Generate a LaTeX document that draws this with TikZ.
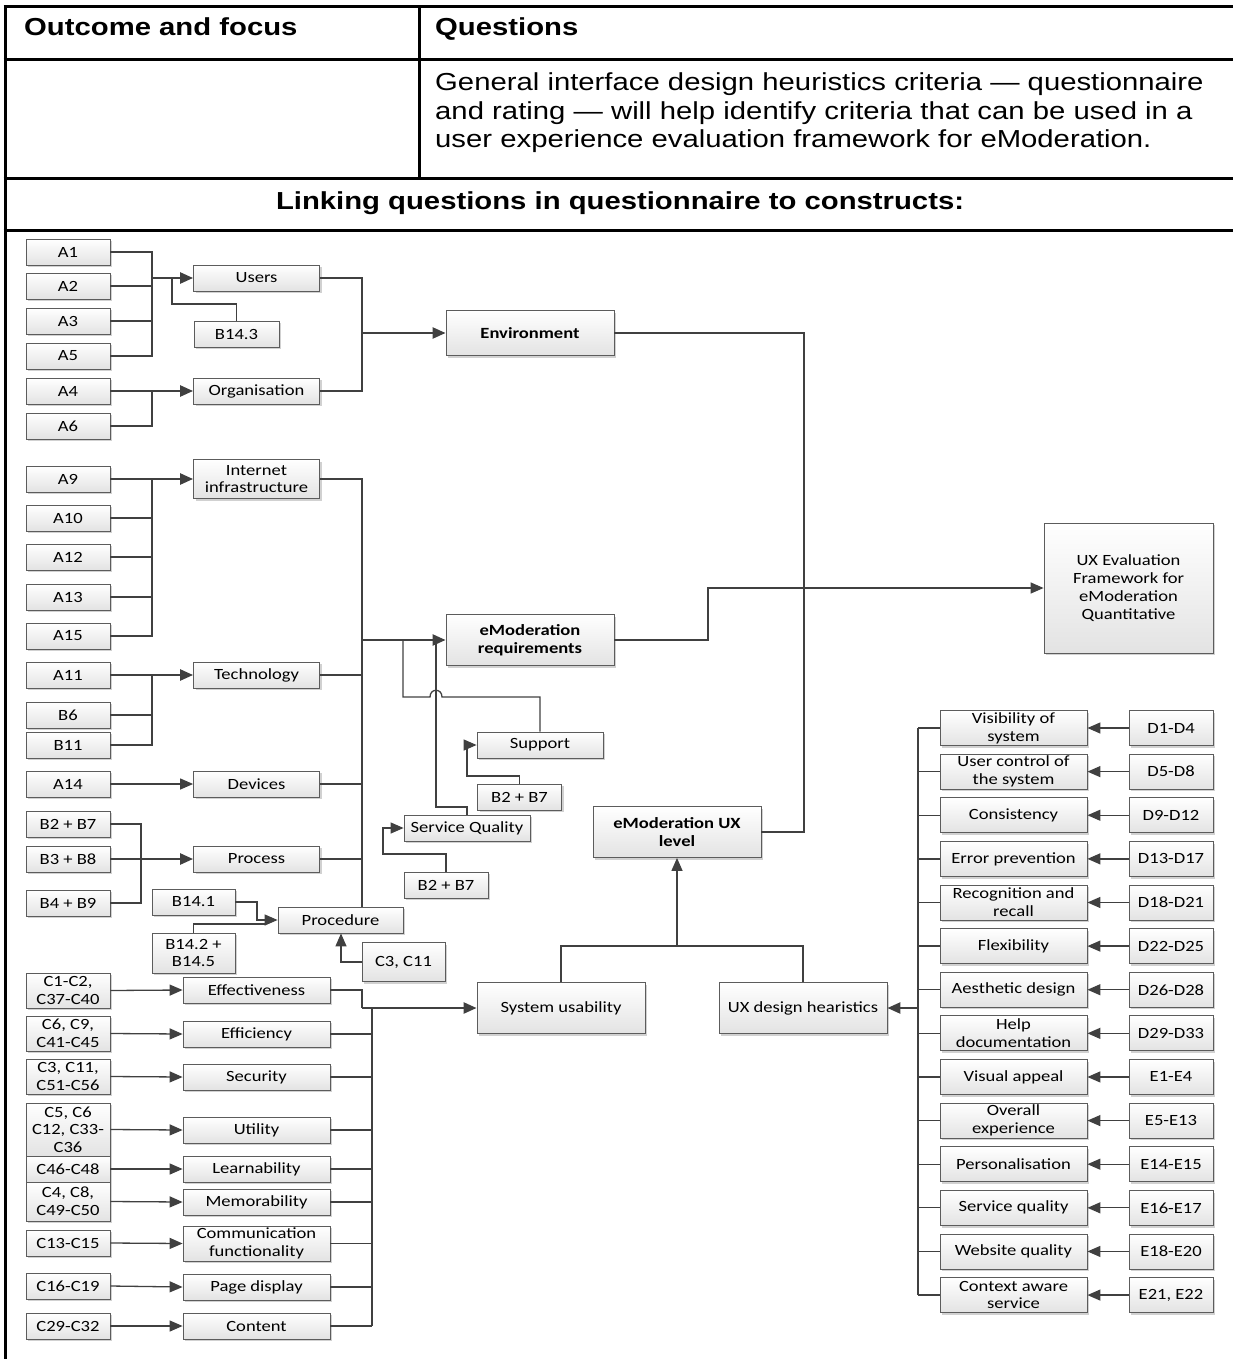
\documentclass[tikz,border=0pt]{standalone}
\usepackage{fontspec}
\setmainfont{Carlito}[FakeStretch=1.19]
\newfontfamily\arialf{Liberation Sans}[FakeStretch=1.19]
\usetikzlibrary{arrows.meta,shadows}
\definecolor{wire}{HTML}{404040}
\definecolor{rim}{HTML}{5C5C5C}
\tikzset{
  box/.style={draw=rim, line width=0.8pt, top color=white, bottom color=black!11,
    drop shadow={shadow xshift=2.2pt, shadow yshift=-2.2pt, fill=black!18, opacity=1},
    font=\fontsize{15.6}{17.8}\selectfont, align=center, inner sep=0pt},
  bold box/.style={box, font=\bfseries\fontsize{15.6}{18.5}\selectfont},
  qcode/.style={box, minimum width=84, minimum height=26},
  cons/.style={box, minimum width=126, minimum height=26},
  cons2/.style={box, minimum width=147, minimum height=26},
  link/.style={draw=wire, line width=1.3pt},
  bus/.style={draw=wire, line width=1.9pt},
  heavy/.style={draw=wire, line width=2.4pt},
  arw/.style={-{Triangle[length=13pt,width=11pt]}},
  tbl/.style={line width=3pt, draw=black},
  hd/.style={font=\arialf\bfseries\fontsize{24.6}{28.5}\selectfont, inner sep=0pt},
}
\begin{document}
\begin{tikzpicture}[x=1pt,y=-1pt]
\useasboundingbox (0,0) rectangle (1233,1359);

% ---------- table frame ----------
\draw[tbl] (3.5,7) -- (1240,7);
\draw[tbl] (3.5,60) -- (1240,60);
\draw[tbl] (3.5,179) -- (1240,179);
\draw[tbl] (3.5,230) -- (1240,230);
\draw[tbl] (5,5.5) -- (5,1365);
\draw[tbl] (419,7) -- (419,179);

\node[hd, anchor=base west] (tOut) at (24,36) {Outcome and focus};
\node[hd, anchor=base west] (tQue) at (435,36) {Questions};
\node[font=\arialf\fontsize{24.6}{28.5}\selectfont, anchor=base west, inner sep=0pt,
      text width=790pt, align=left] (tBody) at (435,91)
  {General interface design heuristics criteria — questionnaire\\
   and rating — will help identify criteria that can be used in a\\
   user experience evaluation framework for eModeration.};
\node[hd, anchor=base] (tLink) at (620,209) {Linking questions in questionnaire to constructs:};

% ---------- bus positions ----------
\coordinate (bA) at (152,0);
\coordinate (bB) at (362,0);
\coordinate (bC) at (141,0);
\coordinate (bD) at (257,0);
\coordinate (bE) at (341,0);
\coordinate (bF) at (403,0);
\coordinate (bG) at (708,0);
\coordinate (bH) at (372,0);
\coordinate (bI) at (918,0);
\coordinate (bR) at (804,0);

% ---------- environment branch ----------
\node[qcode] (a1) at (68,252) {A1};
\node[qcode] (a2) at (68,286) {A2};
\node[qcode] (a3) at (68,321) {A3};
\node[qcode] (a5) at (68,356) {A5};
\node[qcode] (a4) at (68,391) {A4};
\node[qcode] (a6) at (68,426) {A6};
\node[cons] (users) at (256.5,278) {Users};
\node[qcode, minimum width=85] (b143) at (236.5,334) {B14.3};
\node[cons] (org) at (256.5,391) {Organisation};
\node[bold box, minimum width=168, minimum height=45] (env) at (530,333) {Environment};

% ---------- requirements branch ----------
\node[qcode] (a9) at (68,479) {A9};
\node[qcode] (a10) at (68,518) {A10};
\node[qcode] (a12) at (68,557) {A12};
\node[qcode] (a13) at (68,597) {A13};
\node[qcode] (a15) at (68,636) {A15};
\node[qcode] (a11) at (68,675) {A11};
\node[qcode] (b6) at (68,715) {B6};
\node[qcode] (b11) at (68,745) {B11};
\node[qcode] (a14) at (68,784) {A14};
\node[qcode] (b27) at (68,824) {B2 + B7};
\node[qcode] (b38) at (68,859) {B3 + B8};
\node[qcode] (b49) at (68,903) {B4 + B9};
\node[cons, minimum height=39] (inet) at (256.5,479) {Internet\\infrastructure};
\node[cons] (tech) at (256.5,675) {Technology};
\node[cons] (dev) at (256.5,784) {Devices};
\node[cons] (proc) at (256.5,859) {Process};
\node[qcode, minimum width=83] (b141) at (193.5,902) {B14.1};
\node[qcode, minimum width=83, minimum height=40] (b142) at (193.5,953) {B14.2 +\\B14.5};
\node[cons, minimum width=125] (pcd) at (340.5,920) {Procedure};
\node[qcode, minimum width=83, minimum height=39] (c311) at (403.5,962) {C3, C11};
\node[bold box, minimum width=168, minimum height=51] (emr) at (530,640) {eModeration\\requirements};
\node[cons] (sup) at (540,745) {Support};
\node[qcode] (b27u) at (519.5,797) {B2 + B7};
\node[cons] (sq) at (467,828) {Service Quality};
\node[qcode] (b27l) at (446,885) {B2 + B7};

% ---------- top level ----------
\node[box, minimum width=169, minimum height=130] (uxf) at (1128.5,588)
  {UX Evaluation\\Framework for\\eModeration\\Quantitative};
\node[bold box, minimum width=168, minimum height=51] (uxl) at (677,832) {eModeration UX\\level};
\node[box, minimum width=168, minimum height=51] (sys) at (561,1008) {System usability};
\node[box, minimum width=168, minimum height=51] (uxd) at (803,1008) {UX design hearistics};

% ---------- usability branch ----------
\node[qcode, minimum height=35] (c1) at (68,990.5) {C1-C2,\\C37-C40};
\node[qcode, minimum height=35] (c2) at (68,1033.5) {C6, C9,\\C41-C45};
\node[qcode, minimum height=35] (c3) at (68,1076.5) {C3, C11,\\C51-C56};
\node[qcode, minimum height=53, font=\fontsize{15.6}{17.5}\selectfont] (c4) at (68,1129.5) {C5, C6\\C12, C33-\\C36};
\node[qcode] (c5) at (68,1169) {C46-C48};
\node[qcode, minimum height=39] (c6) at (68,1201.5) {C4, C8,\\C49-C50};
\node[qcode] (c7) at (68,1243) {C13-C15};
\node[qcode] (c8) at (68,1286) {C16-C19};
\node[qcode] (c9) at (68,1326) {C29-C32};
\node[cons2] (eff) at (256.5,990) {Effectiveness};
\node[cons2] (effi) at (256.5,1034) {Efficiency};
\node[cons2] (sec) at (256.5,1077) {Security};
\node[cons2] (uti) at (256.5,1130) {Utility};
\node[cons2] (lrn) at (256.5,1169) {Learnability};
\node[cons2] (mem) at (256.5,1202) {Memorability};
\node[cons2, minimum height=35] (com) at (256.5,1243.5) {Communication\\functionality};
\node[cons2] (pgd) at (256.5,1287) {Page display};
\node[cons2] (cnt) at (256.5,1326) {Content};

% ---------- connectors: environment ----------
\draw[link] (a1.east) -- (a1.east -| bA) -- (a5.east -| bA) -- (a5.east);
\draw[link] (a2.east) -- (a2.east -| bA);
\draw[link] (a3.east) -- (a3.east -| bA);
\draw[heavy, arw] (users.west -| bA) -- (users.west);
\draw[link] (b143.north) |- (172,304) -- (172,278);
\draw[link] (a4.east) -- (a4.east -| bA);
\draw[heavy, arw] (a4.east -| bA) -- (org.west);
\draw[link] (a6.east) -| (a4.east -| bA);
\draw[link] (users.east) -| (env.west -| bB);
\draw[link] (org.east) -| (env.west -| bB);
\draw[heavy, arw] (env.west -| bB) -- (env.west);
\draw[link] (env.east) -| (uxl.east -| bR) -- (uxl.east);

% ---------- connectors: requirements ----------
\draw[link] (a9.east) -- (a9.east -| bA) -- (a15.east -| bA) -- (a15.east);
\draw[link] (a10.east) -- (a10.east -| bA);
\draw[link] (a12.east) -- (a12.east -| bA);
\draw[link] (a13.east) -- (a13.east -| bA);
\draw[heavy, arw] (inet.west -| bA) -- (inet.west);
\draw[link] (a11.east) -- (a11.east -| bA) -- (b11.east -| bA) -- (b11.east);
\draw[link] (b6.east) -- (b6.east -| bA);
\draw[heavy, arw] (tech.west -| bA) -- (tech.west);
\draw[link, arw] (a14.east) -- (dev.west);
\draw[link] (b27.east) -| (b49.east -| bC) -- (b49.east);
\draw[link] (b38.east) -- (b38.east -| bC);
\draw[heavy, arw] (b38.east -| bC) -- (proc.west);
\draw[link] (b142.north) |- (266,924);
\draw[link, arw] (b141.east) -| (pcd.west -| bD) -- (pcd.west);
\draw[link, arw] (c311.west) -| (pcd.south -| bE);
\draw[link] (inet.east) -| (bB |- pcd.north);
\draw[link] (tech.east) -- (tech.east -| bB);
\draw[link] (dev.east) -- (dev.east -| bB);
\draw[link] (proc.east) -- (proc.east -| bB);
\draw[link] (sup.north) |- (442,697) .. controls (442,688) and (430,688) .. (430,697)
  -| (emr.west -| bF);
\draw[link] (sq.north) |- (436,807) -- (436,642);
\draw[heavy, arw] (emr.west -| bB) -- (emr.west);
\draw[link, arw] (b27u.north) |- (467,776) |- (sup.west);
\draw[link, arw] (b27l.north) |- (383,854) |- (sq.west);
\draw[link, arw] (emr.east) -| (uxf.west -| bG) -- (uxf.west);

% ---------- connectors: usability ----------
\draw[link, arw] (c1.east) -- (eff.west);
\draw[link, arw] (c2.east) -- (effi.west);
\draw[link, arw] (c3.east) -- (sec.west);
\draw[link, arw] (c4.east) -- (uti.west);
\draw[link, arw] (c5.east) -- (lrn.west);
\draw[link, arw] (c6.east) -- (mem.west);
\draw[link, arw] (c7.east) -- (com.west);
\draw[link, arw] (c8.east) -- (pgd.west);
\draw[link, arw] (c9.east) -- (cnt.west);
\draw[link] (eff.east) -| (sys.west -| bB);
\draw[heavy, arw] (sys.west -| bB) -- (sys.west);
\draw[bus] (sys.west -| bH) -- (cnt.east -| bH);
\foreach \n in {effi,sec,uti,lrn,mem,com,pgd,cnt}
  \draw[link] (\n.east) -- (\n.east -| bH);

% ---------- heuristics branch ----------
\foreach \txt/\cd [count=\i from 0] in {
  {Visibility of\\system}/D1-D4,
  {User control of\\the system}/D5-D8,
  Consistency/D9-D12,
  Error prevention/D13-D17,
  {Recognition and\\recall}/D18-D21,
  Flexibility/D22-D25,
  Aesthetic design/D26-D28,
  {Help\\documentation}/D29-D33,
  Visual appeal/E1-E4,
  {Overall\\experience}/E5-E13,
  Personalisation/E14-E15,
  Service quality/E16-E17,
  Website quality/E18-E20,
  {Context aware\\service}/{E21, E22}}{
  \pgfmathsetmacro\yy{728+43.62*\i}
  \node[box, minimum width=147, minimum height=35] (h\i) at (1013.5,\yy) {\txt};
  \node[box, minimum width=84, minimum height=35] (d\i) at (1171,\yy) {\cd};
  \draw[link, arw] (d\i.west) -- (h\i.east);
  \draw[link] (h\i.west) -- (h\i.west -| bI);
}
\draw[bus] (h0.west -| bI) -- (h13.west -| bI);
\draw[heavy, arw] (uxd.east -| bI) -- (uxd.east);

% ---------- combining the two constructs ----------
\draw[link] (sys.north) |- (uxd.north |- 0,946) -- (uxd.north);
\draw[link, arw] (uxl.south |- 0,946) -- (uxl.south);
\end{tikzpicture}
\end{document}
